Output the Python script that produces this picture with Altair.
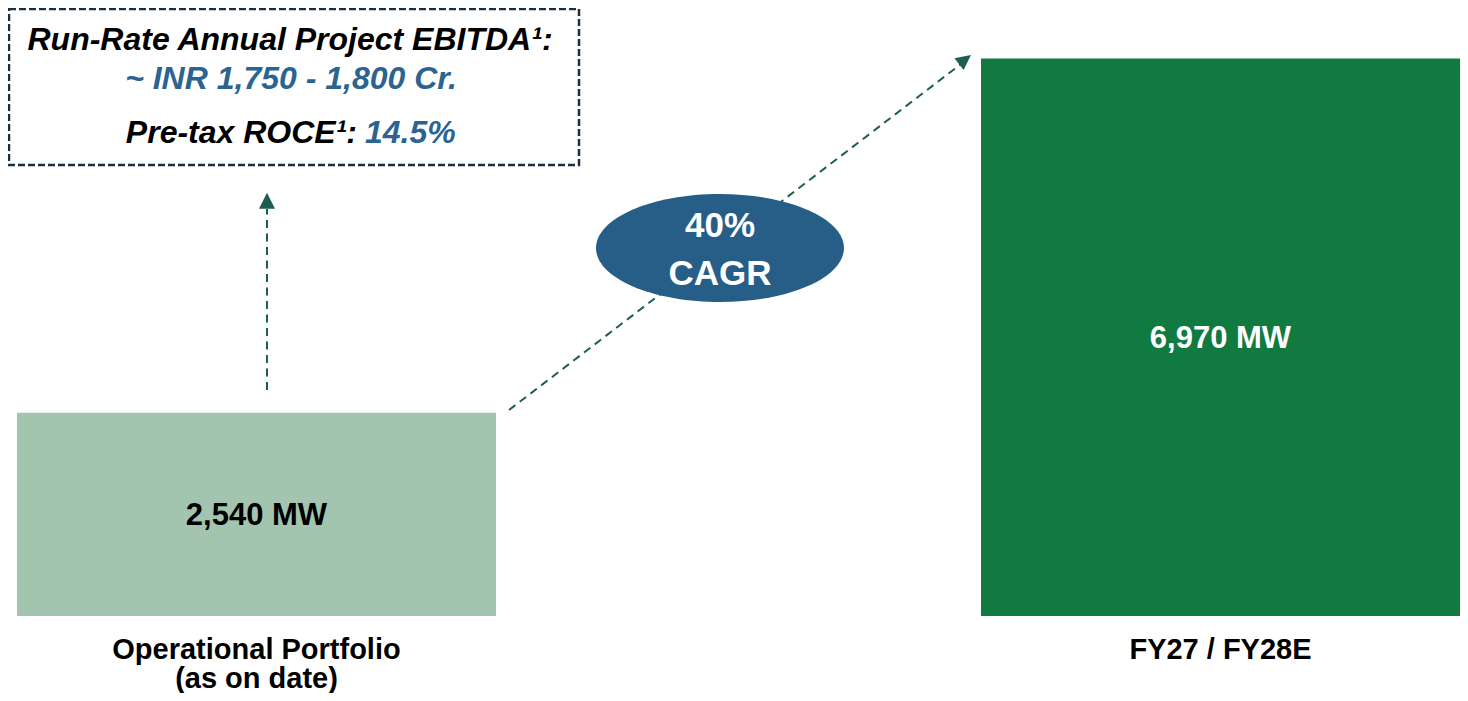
import altair as alt
import pandas as pd

# ---------------- data ----------------
categories = ["Operational Portfolio\n(as on date)", "FY27 / FY28E"]
capacity_mw = [2540, 6970]
bar_colors = ["#A3C4AE", "#107A41"]
value_text_colors = ["#000000", "#FFFFFF"]

box_line1 = "Run-Rate Annual Project EBITDA\u00b9:"
box_line2 = "~ INR 1,750 - 1,800 Cr."
box_line3_label = "Pre-tax ROCE\u00b9:"
box_line3_value = "14.5%"
cagr_lines = ["40%", "CAGR"]

df = pd.DataFrame({
    "category": categories,
    "mw": capacity_mw,
    "color": bar_colors,
    "tcolor": value_text_colors,
})

FONT = "Liberation Sans"
BLUE = "#2B6391"
ARROW = "#1D5E50"
ONE = alt.Data(values=[{}])

xenc = alt.X(
    "category:N", sort=categories,
    scale=alt.Scale(paddingInner=0.5031, paddingOuter=0),
    axis=alt.Axis(title=None, labelAngle=0, domain=False, ticks=False, tickSize=0,
                  labelPadding=42, labelFontSize=29, labelFontWeight="bold",
                  labelFont=FONT, labelColor="#000000", labelLimit=1000,
                  labelLineHeight=29.5, labelBaseline="alphabetic", grid=False,
                  labelExpr="split(datum.label, '\\n')"),
)
yscale = alt.Scale(domain=[0, 7600], nice=False, zero=True)

bars = alt.Chart(df).mark_bar().encode(
    x=xenc,
    y=alt.Y("mw:Q", scale=yscale, axis=None),
    color=alt.Color("color:N", scale=None),
)

bar_vals = alt.Chart(df).transform_calculate(
    mid="datum.mw / 2",
    lbl="format(datum.mw, ',') + ' MW'",
).mark_text(font=FONT, fontSize=31, fontWeight="bold", baseline="middle", dy=2).encode(
    x=alt.X("category:N", sort=categories),
    y=alt.Y("mid:Q", scale=yscale, axis=None),
    text="lbl:N",
    color=alt.Color("tcolor:N", scale=None),
)

box = alt.Chart(ONE).mark_rect(
    fill="#FFFFFF", stroke="#1B2E42", strokeWidth=2.5, strokeDash=[7, 3]
).encode(x=alt.value(-8), x2=alt.value(562), y=alt.value(1), y2=alt.value(157))


def txt(text, x, y, color, size, align="center", italic=True):
    return alt.Chart(ONE).mark_text(
        text=text, font=FONT, fontSize=size, fontWeight="bold",
        fontStyle="italic" if italic else "normal", color=color,
        align=align, baseline="alphabetic",
    ).encode(x=alt.value(x), y=alt.value(y))


t1 = txt(box_line1, 273, 42, "#000000", 32)
t2 = txt(box_line2, 274, 81, BLUE, 32)
t3a = txt(box_line3_label, 340, 135, "#000000", 32, align="right")
t3b = txt(box_line3_value, 348, 135, BLUE, 32, align="left")

ellipse = alt.Chart(ONE).mark_point(
    shape="M-1,0A1,0.4355,0,1,1,1,0A1,0.4355,0,1,1,-1,0Z",
    size=61504, filled=True, fill="#265E88", opacity=1, strokeWidth=0,
).encode(x=alt.value(703), y=alt.value(240))

c1 = txt(cagr_lines[0], 703, 229, "#FFFFFF", 35, italic=False)
c2 = txt(cagr_lines[1], 703, 277, "#FFFFFF", 35, italic=False)

vline = alt.Chart(ONE).mark_rule(color=ARROW, strokeWidth=2, strokeDash=[8, 5.5]).encode(
    x=alt.value(250), y=alt.value(382), y2=alt.value(201))
dline = alt.Chart(ONE).mark_rule(color=ARROW, strokeWidth=2, strokeDash=[8, 5.5]).encode(
    x=alt.value(492), y=alt.value(402), x2=alt.value(944), y2=alt.value(56))

tri = "M0,-1L1,1L-1,1Z"
vhead = alt.Chart(ONE).mark_point(shape=tri, size=256, filled=True, fill=ARROW,
                                  opacity=1, strokeWidth=0).encode(
    x=alt.value(250), y=alt.value(192.7))
dhead = alt.Chart(ONE).mark_point(shape=tri, size=225, filled=True, fill=ARROW,
                                  opacity=1, strokeWidth=0, angle=52.5).encode(
    x=alt.value(948), y=alt.value(51.6))

chart = alt.layer(
    bars, bar_vals, box, t1, t2, t3a, t3b, vline, dline, vhead, dhead, ellipse, c1, c2
).properties(
    width=1443, height=608,
    padding={"left": 9, "top": 0, "right": 0, "bottom": 77},
    autosize=alt.AutoSizeParams(type="none"),
    background="#FFFFFF",
).configure_view(stroke=None)

chart.save("out.html", embed_options={"renderer": "svg", "actions": False})
